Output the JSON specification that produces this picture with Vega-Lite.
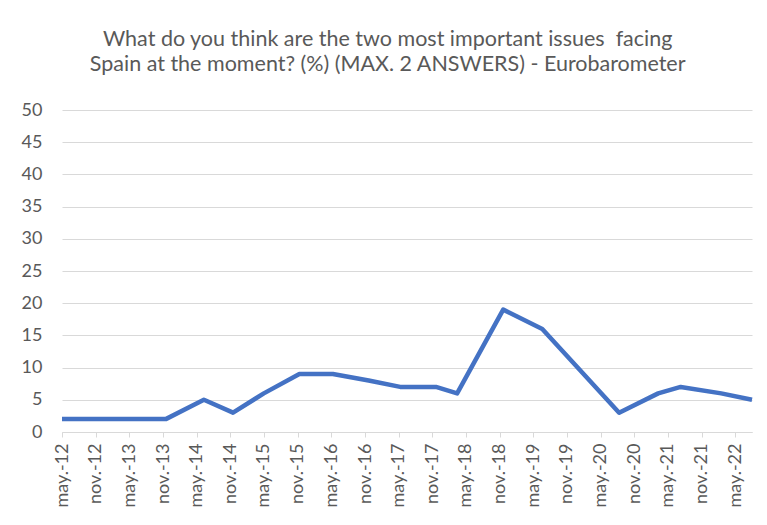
{
  "$schema": "https://vega.github.io/schema/vega-lite/v6.json",
  "width": 690,
  "height": 322,
  "padding": {"left": 21, "top": 28, "right": 10, "bottom": 5},
  "background": "white",
  "title": {
    "text": ["What do you think are the two most important issues\u00a0 facing", "Spain at the moment? (%) (MAX. 2 ANSWERS) - Eurobarometer"],
    "font": "Lato",
    "fontSize": 21.5,
    "fontWeight": "normal",
    "color": "#595959",
    "lineHeight": 25,
    "anchor": "middle",
    "frame": "bounds",
    "offset": 26
  },
  "data": {
    "values": [
      {"date": "2012-05-01", "value": 2},
      {"date": "2012-11-01", "value": 2},
      {"date": "2013-05-01", "value": 2},
      {"date": "2013-11-15", "value": 2},
      {"date": "2014-06-10", "value": 5},
      {"date": "2014-11-15", "value": 3},
      {"date": "2015-05-01", "value": 6},
      {"date": "2015-11-10", "value": 9},
      {"date": "2016-05-10", "value": 9},
      {"date": "2016-11-20", "value": 8},
      {"date": "2017-05-10", "value": 7},
      {"date": "2017-11-20", "value": 7},
      {"date": "2018-03-15", "value": 6},
      {"date": "2018-11-20", "value": 19},
      {"date": "2019-06-20", "value": 16},
      {"date": "2020-08-10", "value": 3},
      {"date": "2021-03-10", "value": 6},
      {"date": "2021-07-10", "value": 7},
      {"date": "2022-02-15", "value": 6},
      {"date": "2022-08-01", "value": 5}
    ]
  },
  "mark": {"type": "line", "color": "#4472C4", "strokeWidth": 4.5, "strokeJoin": "round", "strokeCap": "butt"},
  "encoding": {
    "x": {
      "field": "date",
      "type": "temporal",
      "scale": {
        "type": "utc",
        "domain": [{"year": 2012, "month": 5, "date": 1, "utc": true}, {"year": 2022, "month": 8, "date": 1, "utc": true}],
        "nice": false
      },
      "axis": {
        "title": null,
        "values": [
          {"year": 2012, "month": 5, "date": 1, "utc": true},
          {"year": 2012, "month": 11, "date": 1, "utc": true},
          {"year": 2013, "month": 5, "date": 1, "utc": true},
          {"year": 2013, "month": 11, "date": 1, "utc": true},
          {"year": 2014, "month": 5, "date": 1, "utc": true},
          {"year": 2014, "month": 11, "date": 1, "utc": true},
          {"year": 2015, "month": 5, "date": 1, "utc": true},
          {"year": 2015, "month": 11, "date": 1, "utc": true},
          {"year": 2016, "month": 5, "date": 1, "utc": true},
          {"year": 2016, "month": 11, "date": 1, "utc": true},
          {"year": 2017, "month": 5, "date": 1, "utc": true},
          {"year": 2017, "month": 11, "date": 1, "utc": true},
          {"year": 2018, "month": 5, "date": 1, "utc": true},
          {"year": 2018, "month": 11, "date": 1, "utc": true},
          {"year": 2019, "month": 5, "date": 1, "utc": true},
          {"year": 2019, "month": 11, "date": 1, "utc": true},
          {"year": 2020, "month": 5, "date": 1, "utc": true},
          {"year": 2020, "month": 11, "date": 1, "utc": true},
          {"year": 2021, "month": 5, "date": 1, "utc": true},
          {"year": 2021, "month": 11, "date": 1, "utc": true},
          {"year": 2022, "month": 5, "date": 1, "utc": true}
        ],
        "labelExpr": "(utcFormat(datum.value, '%m') == '05' ? 'may.-' : 'nov.-') + utcFormat(datum.value, '%y')",
        "labelAngle": 270,
        "labelAlign": "right",
        "labelBaseline": "middle",
        "labelFont": "Lato",
        "labelFontSize": 18,
        "labelColor": "#595959",
        "labelPadding": 6,
        "labelOverlap": false,
        "labelFlush": false,
        "grid": false,
        "domainColor": "#D9D9D9",
        "domainWidth": 1,
        "tickColor": "#D9D9D9",
        "tickSize": 5,
        "tickWidth": 1
      }
    },
    "y": {
      "field": "value",
      "type": "quantitative",
      "scale": {"domain": [0, 50], "nice": false},
      "axis": {
        "title": null,
        "values": [0, 5, 10, 15, 20, 25, 30, 35, 40, 45, 50],
        "domain": false,
        "ticks": false,
        "grid": true,
        "gridColor": "#D9D9D9",
        "gridWidth": 1,
        "labelFont": "Lato",
        "labelFontSize": 18,
        "labelColor": "#595959",
        "labelPadding": 20
      }
    }
  },
  "config": {"view": {"stroke": null}}
}
